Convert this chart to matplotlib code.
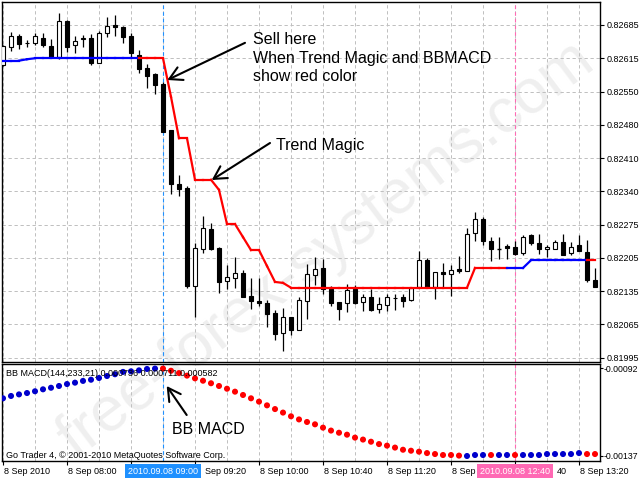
import matplotlib
matplotlib.use('Agg')
import matplotlib.pyplot as plt
from matplotlib.collections import LineCollection
from matplotlib.transforms import blended_transform_factory

plt.rcParams['font.family'] = ['Liberation Sans', 'DejaVu Sans']

# ---------------- data ----------------
bars = list(range(75))
opens = [0.82601, 0.82640, 0.82662, 0.82647, 0.82648, 0.82659, 0.82641, 0.82619, 0.82693, 0.82643,
         0.82655, 0.82659, 0.82607, 0.82668, 0.82684, 0.82680, 0.82662, 0.82623, 0.82596, 0.82583,
         0.82563, 0.82467, 0.82355, 0.82347, 0.82144, 0.82220, 0.82261, 0.82222, 0.82153, 0.82160,
         0.82170, 0.82123, 0.82112, 0.82108, 0.82087, 0.82047, 0.82079, 0.82052, 0.82112, 0.82167,
         0.82181, 0.82138, 0.82110, 0.82108, 0.82138, 0.82110, 0.82120, 0.82095, 0.82105, 0.82118,
         0.82120, 0.82114, 0.82142, 0.82197, 0.82141, 0.82173, 0.82168, 0.82179, 0.82175, 0.82253,
         0.82282, 0.82236, 0.82221, 0.82227, 0.82225, 0.82211, 0.82249, 0.82232, 0.82220, 0.82221,
         0.82235, 0.82211, 0.82228, 0.82215, 0.82156]
highs = [0.82644, 0.82670, 0.82666, 0.82654, 0.82668, 0.82668, 0.82655, 0.82709, 0.82695, 0.82662,
         0.82664, 0.82666, 0.82673, 0.82702, 0.82705, 0.82683, 0.82669, 0.82633, 0.82604, 0.82585,
         0.82567, 0.82467, 0.82373, 0.82352, 0.82233, 0.82289, 0.82274, 0.82225, 0.82187, 0.82204,
         0.82177, 0.82160, 0.82160, 0.82114, 0.82094, 0.82098, 0.82079, 0.82121, 0.82189, 0.82204,
         0.82199, 0.82144, 0.82110, 0.82148, 0.82145, 0.82126, 0.82137, 0.82120, 0.82127, 0.82126,
         0.82127, 0.82141, 0.82217, 0.82202, 0.82173, 0.82191, 0.82188, 0.82206, 0.82264, 0.82297,
         0.82287, 0.82246, 0.82245, 0.82231, 0.82236, 0.82250, 0.82251, 0.82251, 0.82229, 0.82240,
         0.82251, 0.82235, 0.82249, 0.82239, 0.82181]
lows = [0.82600, 0.82632, 0.82636, 0.82640, 0.82643, 0.82639, 0.82618, 0.82614, 0.82628, 0.82626,
        0.82640, 0.82601, 0.82606, 0.82661, 0.82662, 0.82647, 0.82619, 0.82586, 0.82554, 0.82542,
        0.82463, 0.82334, 0.82330, 0.82139, 0.82080, 0.82213, 0.82218, 0.82130, 0.82137, 0.82139,
        0.82121, 0.82095, 0.82103, 0.82059, 0.82031, 0.82008, 0.82041, 0.82052, 0.82076, 0.82145,
        0.82127, 0.82102, 0.82072, 0.82090, 0.82106, 0.82092, 0.82092, 0.82087, 0.82091, 0.82094,
        0.82101, 0.82113, 0.82142, 0.82141, 0.82116, 0.82142, 0.82123, 0.82170, 0.82175, 0.82236,
        0.82228, 0.82196, 0.82200, 0.82200, 0.82208, 0.82207, 0.82228, 0.82210, 0.82204, 0.82221,
        0.82208, 0.82208, 0.82217, 0.82152, 0.82141]
closes = [0.82641, 0.82662, 0.82646, 0.82648, 0.82662, 0.82644, 0.82618, 0.82693, 0.82639, 0.82652,
          0.82659, 0.82607, 0.82668, 0.82683, 0.82680, 0.82661, 0.82626, 0.82594, 0.82579, 0.82560,
          0.82463, 0.82355, 0.82345, 0.82144, 0.82222, 0.82264, 0.82220, 0.82152, 0.82162, 0.82170,
          0.82121, 0.82112, 0.82108, 0.82085, 0.82044, 0.82079, 0.82052, 0.82114, 0.82168, 0.82178,
          0.82138, 0.82109, 0.82096, 0.82135, 0.82109, 0.82120, 0.82094, 0.82106, 0.82120, 0.82119,
          0.82113, 0.82139, 0.82197, 0.82142, 0.82173, 0.82168, 0.82177, 0.82175, 0.82251, 0.82282,
          0.82236, 0.82221, 0.82221, 0.82222, 0.82210, 0.82245, 0.82232, 0.82220, 0.82224, 0.82235,
          0.82208, 0.82225, 0.82217, 0.82155, 0.82142]

trend_magic = [0.82611, 0.82611, 0.82611, 0.82614, 0.82616, 0.82616, 0.82616, 0.82616, 0.82616, 0.82616,
               0.82616, 0.82616, 0.82616, 0.82616, 0.82616, 0.82616, 0.82616, 0.82616, 0.82616, 0.82616,
               0.82616, 0.82536, 0.82450, 0.82450, 0.82364, 0.82364, 0.82364, 0.82343, 0.82272, 0.82272,
               0.82245, 0.82218, 0.82218, 0.82185, 0.82152, 0.82150, 0.82140, 0.82140, 0.82140, 0.82140,
               0.82140, 0.82140, 0.82140, 0.82140, 0.82140, 0.82140, 0.82140, 0.82140, 0.82140, 0.82140,
               0.82140, 0.82140, 0.82140, 0.82140, 0.82140, 0.82140, 0.82140, 0.82140, 0.82140, 0.82181,
               0.82181, 0.82181, 0.82181, 0.82181, 0.82181, 0.82181, 0.82197, 0.82197, 0.82197, 0.82197,
               0.82197, 0.82197, 0.82197, 0.82197, 0.82197]
trend_state = ['up'] * 18 + ['down'] * 46 + ['up'] * 10 + ['down']

bb_macd = [-0.001075, -0.001063, -0.001055, -0.001048, -0.001039, -0.001029, -0.001021, -0.001012, -0.001002, -0.000995,
           -0.000986, -0.000980, -0.000971, -0.000961, -0.000952, -0.000940, -0.000937, -0.000932, -0.000925, -0.000923,
           -0.000923, -0.000934, -0.000946, -0.000959, -0.000973, -0.000985, -0.000998, -0.001012, -0.001026, -0.001041,
           -0.001058, -0.001075, -0.001092, -0.001111, -0.001130, -0.001148, -0.001167, -0.001183, -0.001196, -0.001208,
           -0.001225, -0.001240, -0.001251, -0.001261, -0.001276, -0.001286, -0.001297, -0.001309, -0.001317, -0.001327,
           -0.001338, -0.001343, -0.001348, -0.001355, -0.001360, -0.001365, -0.001365, -0.001368, -0.001370, -0.001365,
           -0.001365, -0.001365, -0.001365, -0.001365, -0.001365, -0.001365, -0.001365, -0.001365, -0.001360, -0.001360,
           -0.001360, -0.001360, -0.001355, -0.001360, -0.001360]
macd_state = (['up'] * 20 + ['down'] * 38 + ['up'] * 3 + ['down'] + ['up'] * 2 + ['down']
              + ['up'] * 8 + ['down'] * 2)

price_ticks = [0.81995, 0.82064, 0.82133, 0.82202, 0.82271, 0.82340, 0.82409, 0.82478, 0.82547, 0.82616, 0.82685]
price_tick_labels = ['0.81995', '0.82065', '0.82135', '0.82205', '0.82275', '0.82340',
                     '0.82410', '0.82480', '0.82550', '0.82615', '0.82685']
macd_ticks = [-0.00092, -0.00137]
macd_tick_labels = ['-0.00092', '-0.00137']
time_tick_bars = [0, 8, 16, 24, 32, 40, 48, 56, 64, 72]
# visible parts of the time labels (the cursor boxes hide the rest)
time_labels = ['8 Sep 2010', '8 Sep 08:00', '', 'Sep 09:20', '8 Sep 10:00',
               '8 Sep 10:40', '8 Sep 11:20', '8 Sep', '40', '8 Sep 13:20']
time_label_shift_px = [0, 0, 0, 9, 0, 0, 0, 0, 40, 0]
cursor1_bar, cursor1_label = 20, '2010.09.08 09:00'
cursor2_bar, cursor2_label = 64, '2010.09.08 12:40'

# ---------------- figure ----------------
W, H = 640, 480
fig = plt.figure(figsize=(W / 100, H / 100), dpi=100)
fig.patch.set_facecolor('white')


def px_box(x0, y0, x1, y1):
    return [x0 / W, 1 - y1 / H, (x1 - x0) / W, (y1 - y0) / H]


ax = fig.add_axes(px_box(2, 2, 600, 362))
ax2 = fig.add_axes(px_box(2, 364, 600, 461))
for a in (ax, ax2):
    a.set_facecolor('none')
    for s in a.spines.values():
        s.set_linewidth(1.0)
        s.set_color('black')
    a.set_xlim(-0.125, 74.625)

ax.set_ylim(0.819859, 0.827327)
ax2.set_ylim(-0.0013956, -0.00089954)

# watermark
fig.text(326 / W, 1 - 250 / H, 'free-forex-systems.com', rotation=37, ha='center', va='center',
         fontsize=45, color='#EFEFEF', zorder=-1)

grid_kw = dict(color='#C0C0C0', lw=0.72, ls=(0, (3.3, 2.7)), zorder=0.5)
for y in price_ticks:
    ax.axhline(y, **grid_kw)
for i in range(0, 75, 4):
    ax.axvline(i, **grid_kw)
    ax2.axvline(i, **grid_kw)

for a in (ax, ax2):
    a.axvline(cursor1_bar, color='#1E90FF', lw=0.8, ls=(0, (3.3, 2.7)), zorder=0.6)
    a.axvline(cursor2_bar, color='#FF69B4', lw=0.8, ls=(0, (3.3, 2.7)), zorder=0.6)

# candles
ax.vlines(bars, lows, highs, color='black', lw=0.9, zorder=2)
for i, o, c in zip(bars, opens, closes):
    bottom = min(o, c)
    h = abs(c - o)
    if h < 2e-6:
        ax.hlines(o, i - 0.3, i + 0.3, color='black', lw=1.0, zorder=3)
    else:
        ax.bar(i, h, bottom=bottom, width=0.6, color='white' if c > o else 'black',
               edgecolor='black', linewidth=0.8, zorder=3)

# trend magic
segs = [[(bars[i - 1], trend_magic[i - 1]), (bars[i], trend_magic[i])] for i in range(1, len(bars))]
cols = ['#0000FF' if trend_state[i] == 'up' else '#FF0000' for i in range(1, len(bars))]
ax.add_collection(LineCollection(segs, colors=cols, linewidths=1.6, zorder=4, capstyle='projecting'))

ax.set_xticks([])
ax.yaxis.tick_right()
ax.set_yticks(price_ticks)
ax.set_yticklabels(price_tick_labels)
ax.tick_params(axis='y', direction='out', length=3, width=0.8, pad=1.5, labelsize=6.5)

# BB MACD
mcols = ['#0000CC' if s == 'up' else '#FF0000' for s in macd_state]
ax2.scatter(bars, bb_macd, c=mcols, s=19, linewidths=0, zorder=3)
ax2.yaxis.tick_right()
ax2.set_yticks(macd_ticks)
ax2.set_yticklabels(macd_tick_labels)
ax2.tick_params(axis='y', direction='out', length=2, width=0.8, pad=0.3, labelsize=6.3)
ax2.set_xticks(time_tick_bars)
ax2.set_xticklabels([])
ax2.tick_params(axis='x', direction='out', length=3, width=0.8)

tb = blended_transform_factory(ax2.transData, ax2.transAxes)
ylab = (461 - 471) / 97
for b, lab, sh in zip(time_tick_bars, time_labels, time_label_shift_px):
    if lab:
        ax2.annotate(lab, xy=(b, ylab), xycoords=tb, xytext=(sh * 0.72 + 1, 0), textcoords='offset points',
                     ha='left', va='center', fontsize=6.5, annotation_clip=False)

ax2.text(4 / 598, (461 - 374) / 97, 'BB MACD(144,233,21) 0.000736 0.000711 0.000582',
         transform=ax2.transAxes, fontsize=6.5, va='center', ha='left', zorder=5)
ax2.text(4 / 598, (461 - 455) / 97, 'Go Trader 4, \u00a9 2001-2010 MetaQuotes Software Corp.',
         transform=ax2.transAxes, fontsize=6.5, va='center', ha='left', zorder=5)

ax2.text(cursor1_bar, ylab, cursor1_label, transform=tb, ha='center', va='center',
         fontsize=6.5, color='white', zorder=10, clip_on=False,
         bbox=dict(boxstyle='square,pad=0.3', fc='#1E90FF', ec='none'))
ax2.text(cursor2_bar, ylab, cursor2_label, transform=tb, ha='center', va='center',
         fontsize=6.5, color='white', zorder=10, clip_on=False,
         bbox=dict(boxstyle='square,pad=0.3', fc='#FF69B4', ec='none'))

# annotations
arrow_kw = dict(arrowstyle='->,head_length=0.45,head_width=0.25', color='black', lw=1.5,
                shrinkA=0, shrinkB=0, mutation_scale=20)
ax.annotate('', xy=(20.54, 0.825709), xytext=(30.25, 0.826480), arrowprops=arrow_kw, zorder=6)
ax.text(31.25, 0.826700, 'Sell here\nWhen Trend Magic and BBMACD\nshow red color', fontsize=11.5,
        va='top', ha='left', linespacing=1.3, zorder=6)
ax.annotate('', xy=(26.09, 0.823634), xytext=(33.375, 0.824402), arrowprops=arrow_kw, zorder=6)
ax.text(34.125, 0.824360, 'Trend Magic', fontsize=11.5, va='center', ha='left', zorder=6)
ax2.annotate('', xy=(20.46, -0.0010121), xytext=(22.96, -0.0011604), arrowprops=arrow_kw, zorder=6)
ax2.text(21.1, -0.0012370, 'BB MACD', fontsize=11.5, va='center', ha='left', zorder=6)

fig.savefig('out.png', dpi=100, facecolor='white')
